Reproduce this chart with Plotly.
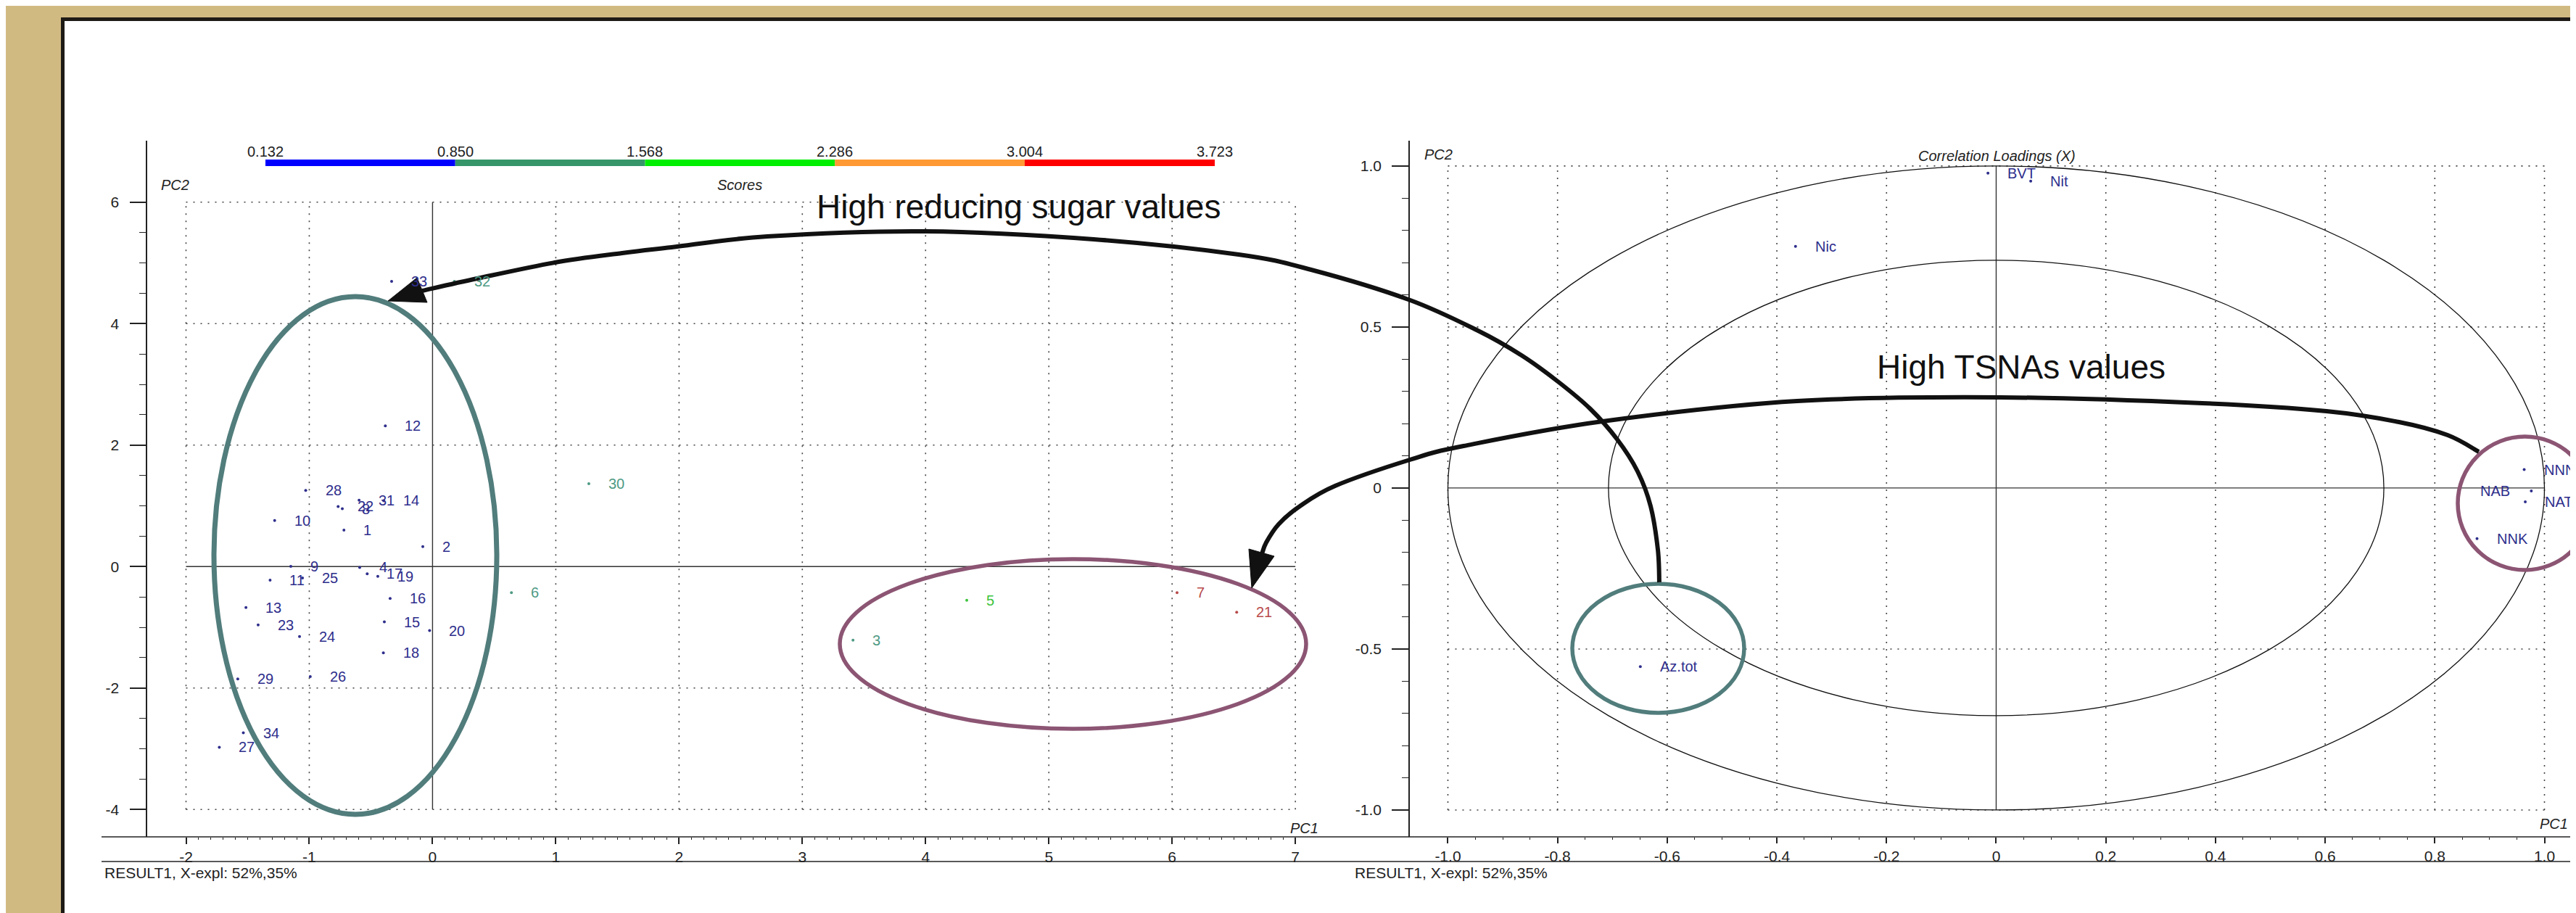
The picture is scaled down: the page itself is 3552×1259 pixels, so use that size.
import plotly.graph_objects as go
import numpy as np

W, H = 3552, 1259
FONT = "Liberation Sans, Arial, sans-serif"

# ---------------- data ----------------
sample_ids = [str(i) for i in range(1, 35)]
scores_pc1 = [-0.719, -0.079, 3.411, -0.591, 4.334, 0.640, 6.040, -0.732, -1.150, -1.281,
              -1.318, -0.383, -1.514, -0.396, -0.391, -0.344, -0.530, -0.399, -0.444, -0.024,
              6.524, -0.766, -1.415, -1.079, -1.055, -0.992, -1.730, -1.029, -1.580, 1.268,
              -0.596, 0.177, -0.332, -1.535]
scores_pc2 = [0.600, 0.330, -1.211, -0.014, -0.556, -0.430, -0.429, 0.952, 0.005, 0.760,
              -0.224, 2.316, -0.673, 1.085, -0.911, -0.526, -0.119, -1.419, -0.160, -1.053,
              -0.753, 0.989, -0.961, -1.153, -0.188, -1.812, -2.975, 1.254, -1.849, 1.364,
              1.094, 4.696, 4.696, -2.737]
# colour class of each sample (index into the Scores colour scale)
score_band = [0, 0, 1, 0, 2, 1, 4, 0, 0, 0,
              0, 0, 0, 0, 0, 0, 0, 0, 0, 0,
              4, 0, 0, 0, 0, 0, 0, 0, 0, 1,
              0, 1, 0, 0]

scale_bounds = [0.132, 0.850, 1.568, 2.286, 3.004, 3.723]
scale_labels = ["0.132", "0.850", "1.568", "2.286", "3.004", "3.723"]
band_colors = ["#0000FF", "#36966A", "#00EE00", "#FF9933", "#FF0000"]
band_text_colors = ["#2E2E8C", "#4E9A84", "#3DC43D", "#E08A3A", "#B84A4A"]

load_names = ["BVT", "Nit", "Nic", "NNN", "NAB", "NAT", "NNK", "Az.tot"]
load_pc1 = [-0.015, 0.063, -0.366, 0.963, 0.976, 0.965, 0.877, -0.649]
load_pc2 = [0.978, 0.953, 0.750, 0.057, -0.009, -0.043, -0.157, -0.555]
load_label_side = ["right", "right", "right", "right", "left", "right", "right", "right"]
circle_radii = [1.0, 0.7071]

left_xticks = [-2, -1, 0, 1, 2, 3, 4, 5, 6, 7]
left_yticks = [-4, -2, 0, 2, 4, 6]
right_xticks = [-1.0, -0.8, -0.6, -0.4, -0.2, 0, 0.2, 0.4, 0.6, 0.8, 1.0]
right_xticktext = ["-1.0", "-0.8", "-0.6", "-0.4", "-0.2", "0", "0.2", "0.4", "0.6", "0.8", "1.0"]
right_yticks = [-1.0, -0.5, 0, 0.5, 1.0]
right_yticktext = ["-1.0", "-0.5", "0", "0.5", "1.0"]


def px(x, y):
    return x / W, 1 - y / H


def minor_vals(lo, hi, step, majors):
    vals = np.round(np.arange(lo, hi + step / 2, step), 6)
    return [float(v) for v in vals if all(abs(v - m) > 1e-6 for m in majors)]


fig = go.Figure()

# score points
fig.add_trace(go.Scatter(
    x=scores_pc1, y=scores_pc2, mode="markers", xaxis="x", yaxis="y",
    marker=dict(size=4, color=[band_text_colors[b] for b in score_band]),
    hoverinfo="text", text=sample_ids, showlegend=False))
# loadings points
fig.add_trace(go.Scatter(
    x=load_pc1, y=load_pc2, mode="markers", xaxis="x2", yaxis="y2",
    marker=dict(size=4, color="#2E2E8C"), text=load_names, hoverinfo="text",
    showlegend=False))

annotations = []
for sid, x, y, b in zip(sample_ids, scores_pc1, scores_pc2, score_band):
    annotations.append(dict(x=x, y=y, xref="x", yref="y", text=sid, showarrow=False,
                            xanchor="left", yanchor="middle", xshift=25,
                            font=dict(family=FONT, size=20, color=band_text_colors[b])))
for n, x, y, side in zip(load_names, load_pc1, load_pc2, load_label_side):
    annotations.append(dict(x=x, y=y, xref="x2", yref="y2", text=n, showarrow=False,
                            xanchor="left" if side == "right" else "right", yanchor="middle",
                            xshift=25 if side == "right" else -27,
                            font=dict(family=FONT, size=20, color="#2E2E8C")))

shapes = []
# background panel with dark frame
shapes.append(dict(type="rect", xref="paper", yref="paper", x0=78.5 / W, x1=1.05,
                   y0=-0.05, y1=1 - 18.5 / H, fillcolor="white",
                   line=dict(color="#1E1A16", width=5), layer="below"))

GRID = dict(color="#444444", width=1.6, dash="2px,8px")
ZERO = dict(color="#333333", width=1.4)
# left grid
for v in left_xticks:
    shapes.append(dict(type="line", xref="x", yref="y", x0=v, x1=v, y0=-4, y1=6,
                       line=ZERO if v == 0 else GRID, layer="below"))
for v in left_yticks:
    shapes.append(dict(type="line", xref="x", yref="y", x0=-2, x1=7, y0=v, y1=v,
                       line=ZERO if v == 0 else GRID, layer="below"))
# right grid
for v in right_xticks:
    shapes.append(dict(type="line", xref="x2", yref="y2", x0=v, x1=v, y0=-1, y1=1,
                       line=ZERO if v == 0 else GRID, layer="below"))
for v in right_yticks:
    shapes.append(dict(type="line", xref="x2", yref="y2", x0=-1, x1=1, y0=v, y1=v,
                       line=ZERO if v == 0 else GRID, layer="below"))
for r in circle_radii:
    shapes.append(dict(type="circle", xref="x2", yref="y2", x0=-r, x1=r, y0=-r, y1=r,
                       line=dict(color="#111111", width=1.3)))

# bottom axis line and separator
for yy in (1146, 1180):
    a = px(132, yy)
    shapes.append(dict(type="line", xref="paper", yref="paper", x0=a[0], x1=1.0,
                       y0=a[1], y1=a[1], line=dict(color="#222222", width=1.6)))

# colour scale bar
bar_x0, bar_x1 = 358, 1667
def scale_px(v):
    return bar_x0 + (v - scale_bounds[0]) / (scale_bounds[-1] - scale_bounds[0]) * (bar_x1 - bar_x0)
for i, c in enumerate(band_colors):
    a = px(scale_px(scale_bounds[i]), 212)
    b = px(scale_px(scale_bounds[i + 1]), 221)
    shapes.append(dict(type="rect", xref="paper", yref="paper", x0=a[0], x1=b[0],
                       y0=b[1], y1=a[1], fillcolor=c, line=dict(width=0)))
for v, t in zip(scale_bounds, scale_labels):
    p = px(scale_px(v), 201)
    annotations.append(dict(x=p[0], y=p[1], xref="paper", yref="paper", text=t, showarrow=False,
                            xanchor="center", yanchor="middle",
                            font=dict(family=FONT, size=20, color="#222222")))


def ellipse(x0, y0, x1, y1, color, width):
    a = px(x0, y0)
    b = px(x1, y1)
    return dict(type="circle", xref="paper", yref="paper", x0=a[0], x1=b[0], y0=b[1], y1=a[1],
                line=dict(color=color, width=width))


TEAL = "#517D7C"
PURPLE = "#8C5573"
shapes.append(ellipse(287, 401, 677, 1115, TEAL, 7))
shapes.append(ellipse(1150, 763, 1793, 997, PURPLE, 5.5))
shapes.append(ellipse(2160, 797, 2397, 975, TEAL, 5.5))
shapes.append(ellipse(3381, 594, 3566, 778, PURPLE, 5.5))


def smooth_path(pts):
    P = [np.array(p, dtype=float) for p in pts]
    def f(p):
        q = px(p[0], p[1])
        return f"{q[0]:.6f},{q[1]:.6f}"
    d = "M " + f(P[0])
    for i in range(len(P) - 1):
        p0 = P[i - 1] if i > 0 else P[i]
        p1, p2 = P[i], P[i + 1]
        p3 = P[i + 2] if i + 2 < len(P) else P[i + 1]
        c1 = p1 + (p2 - p0) / 6
        c2 = p2 - (p3 - p1) / 6
        d += " C " + f(c1) + " " + f(c2) + " " + f(p2)
    return d


def tri(a, b, c):
    pa, pb, pc = px(*a), px(*b), px(*c)
    return (f"M {pa[0]:.6f},{pa[1]:.6f} L {pb[0]:.6f},{pb[1]:.6f} "
            f"L {pc[0]:.6f},{pc[1]:.6f} Z")


arrow_a = [(2280, 795), (2278, 750), (2268, 690), (2250, 642), (2222, 598), (2185, 556),
           (2140, 518), (2090, 482), (2030, 448), (1934, 405), (1800, 364), (1700, 343),
           (1500, 322), (1268, 311), (1050, 318), (918, 333), (850, 341), (757, 354),
           (650, 376), (574, 393)]
arrow_b = [(3410, 615), (3367, 592), (3300, 574), (3200, 559), (3029, 548), (2750, 540),
           (2470, 545), (2202, 573), (2010, 607), (1936, 626), (1833, 662), (1783, 691),
           (1755, 715), (1738, 740), (1732, 756)]
for pts in (arrow_a, arrow_b):
    shapes.append(dict(type="path", xref="paper", yref="paper", path=smooth_path(pts),
                       line=dict(color="#111111", width=6)))
shapes.append(dict(type="path", xref="paper", yref="paper",
                   path=tri((527, 407), (567, 375), (581, 409)),
                   fillcolor="#111111", line=dict(color="#111111", width=1)))
shapes.append(dict(type="path", xref="paper", yref="paper",
                   path=tri((1718, 803), (1714, 749), (1749, 759)),
                   fillcolor="#111111", line=dict(color="#111111", width=1)))


def label(x, y, text, size=20, anchor="center", color="#222222"):
    p = px(x, y)
    annotations.append(dict(x=p[0], y=p[1], xref="paper", yref="paper", text=text,
                            showarrow=False, xanchor=anchor, yanchor="middle",
                            font=dict(family=FONT, size=size, color=color)))


label(233, 247, "<i>PC2</i>")
label(1012, 247, "<i>Scores</i>")
label(1790, 1134, "<i>PC1</i>")
label(1975, 205, "<i>PC2</i>")
label(2745, 207, "<i>Correlation Loadings (X)</i>")
label(3513, 1128, "<i>PC1</i>")
label(134, 1195, "RESULT1, X-expl: 52%,35%", size=21, anchor="left")
label(1858, 1195, "RESULT1, X-expl: 52%,35%", size=21, anchor="left")
label(1396, 277, "High reducing sugar values", size=46, color="#111111")
label(2779, 498, "High TSNAs values", size=46, color="#111111")

TICKFONT = dict(family=FONT, size=21, color="#222222")
ydom = [1 - 1146 / H, 1 - 186 / H]

layout = dict(
    width=W, height=H, margin=dict(l=0, r=0, t=0, b=0),
    paper_bgcolor="#D1BA82", plot_bgcolor="rgba(0,0,0,0)",
    showlegend=False, shapes=shapes, annotations=annotations,
    xaxis=dict(domain=[195.3 / W, 1830 / W], range=[-2.313, 7.305], anchor="y",
               showgrid=False, zeroline=False, showline=False,
               tickmode="array", tickvals=left_xticks, ticktext=[str(v) for v in left_xticks],
               ticks="outside", ticklen=9, tickwidth=1.5, tickcolor="#222222", tickfont=TICKFONT,
               minor=dict(tickmode="array", tickvals=minor_vals(-2, 7, 0.1, left_xticks),
                          ticks="outside", ticklen=3, tickwidth=1, tickcolor="#222222",
                          showgrid=False)),
    yaxis=dict(domain=ydom, range=[-4.450, 7.0125], anchor="x",
               showgrid=False, zeroline=False, showline=True, linecolor="#222222", linewidth=1.6,
               tickmode="array", tickvals=left_yticks, ticktext=[str(v) for v in left_yticks],
               ticks="outside", ticklen=23, tickwidth=1.5, tickcolor="#222222", tickfont=TICKFONT,
               ticklabelstandoff=10,
               minor=dict(tickmode="array", tickvals=minor_vals(-4, 6, 0.5, left_yticks),
                          ticks="outside", ticklen=10, tickwidth=1, tickcolor="#222222",
                          showgrid=False)),
    xaxis2=dict(domain=[1936 / W, 1.0], range=[-1.0694, 1.0681], anchor="y2",
                showgrid=False, zeroline=False, showline=False,
                tickmode="array", tickvals=right_xticks, ticktext=right_xticktext,
                ticks="outside", ticklen=8, tickwidth=1.5, tickcolor="#222222", tickfont=TICKFONT,
                minor=dict(tickmode="array", tickvals=minor_vals(-1, 1, 0.05, right_xticks),
                           ticks="outside", ticklen=3, tickwidth=1, tickcolor="#222222",
                           showgrid=False)),
    yaxis2=dict(domain=ydom, range=[-1.0834, 1.0785], anchor="x2",
                showgrid=False, zeroline=False, showline=True, linecolor="#222222", linewidth=1.6,
                tickmode="array", tickvals=right_yticks, ticktext=right_yticktext,
                ticks="outside", ticklen=23, tickwidth=1.5, tickcolor="#222222", tickfont=TICKFONT,
                ticklabelstandoff=10,
                minor=dict(tickmode="array", tickvals=minor_vals(-1, 1, 0.1, right_yticks),
                           ticks="outside", ticklen=9, tickwidth=1, tickcolor="#222222",
                           showgrid=False)),
)
fig.update_layout(**layout)
fig.write_html("out.html")
